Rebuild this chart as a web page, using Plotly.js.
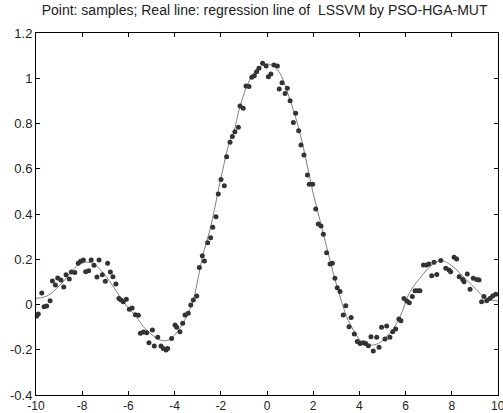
<!DOCTYPE html>
<html>
<head>
<meta charset="utf-8">
<script src="https://cdn.plot.ly/plotly-3.0.1.min.js"></script>
<style>html,body{margin:0;padding:0;background:#fff;}#chart{width:503px;height:413px;}</style>
</head>
<body>
<div id="chart"></div>
<script>
const sampleX = [-9.97,-9.90,-9.75,-9.65,-9.54,-9.39,-9.29,-9.16,-9.06,-8.92,-8.80,-8.70,-8.56,-8.47,-8.32,-8.17,-8.07,-7.95,-7.85,-7.72,-7.61,-7.49,-7.36,-7.27,-7.13,-7.00,-6.90,-6.78,-6.67,-6.54,-6.41,-6.32,-6.22,-6.09,-5.96,-5.84,-5.70,-5.57,-5.48,-5.35,-5.21,-5.11,-4.96,-4.88,-4.73,-4.59,-4.49,-4.37,-4.30,-4.13,-3.98,-3.91,-3.77,-3.65,-3.55,-3.41,-3.30,-3.19,-3.04,-2.93,-2.80,-2.71,-2.57,-2.44,-2.35,-2.21,-2.11,-1.99,-1.85,-1.75,-1.60,-1.50,-1.39,-1.24,-1.17,-1.03,-0.91,-0.78,-0.66,-0.55,-0.45,-0.35,-0.19,-0.04,0.06,0.17,0.30,0.45,0.53,0.65,0.78,0.88,1.00,1.14,1.24,1.37,1.47,1.60,1.75,1.83,1.98,2.11,2.22,2.34,2.44,2.58,2.73,2.83,2.94,3.04,3.16,3.30,3.41,3.55,3.64,3.78,3.91,4.03,4.17,4.27,4.39,4.50,4.60,4.75,4.85,4.96,5.11,5.18,5.32,5.44,5.57,5.71,5.80,5.93,6.05,6.16,6.29,6.41,6.52,6.62,6.77,6.91,7.01,7.13,7.23,7.35,7.52,7.74,7.88,7.95,8.10,8.21,8.32,8.47,8.53,8.67,8.79,8.93,9.08,9.18,9.29,9.39,9.51,9.65,9.77,9.90];
const sampleY = [-0.051,-0.042,0.051,-0.010,-0.007,0.017,0.104,0.086,0.117,0.108,0.077,0.132,0.113,0.144,0.141,0.182,0.191,0.197,0.145,0.149,0.197,0.173,0.122,0.197,0.132,0.103,0.182,0.144,0.123,0.091,0.027,0.020,0.012,0.023,-0.021,-0.015,-0.045,-0.048,-0.127,-0.122,-0.125,-0.169,-0.113,-0.183,-0.145,-0.183,-0.194,-0.201,-0.195,-0.150,-0.091,-0.101,-0.120,-0.083,-0.046,-0.039,-0.002,0.020,0.038,0.164,0.216,0.192,0.273,0.295,0.341,0.388,0.488,0.553,0.525,0.653,0.717,0.742,0.764,0.783,0.877,0.867,0.966,0.963,1.004,1.011,1.029,1.044,1.066,1.054,1.007,1.019,1.059,1.054,0.952,0.980,0.933,0.956,0.901,0.804,0.845,0.768,0.705,0.661,0.572,0.531,0.531,0.422,0.356,0.347,0.310,0.229,0.179,0.182,0.116,0.074,0.057,-0.046,-0.005,-0.098,-0.057,-0.130,-0.164,-0.172,-0.169,-0.172,-0.182,-0.142,-0.206,-0.145,-0.189,-0.101,-0.152,-0.095,-0.145,-0.120,-0.108,-0.064,-0.072,0.027,0.015,0.008,0.035,0.061,0.061,0.061,0.175,0.175,0.179,0.127,0.187,0.133,0.194,0.160,0.152,0.145,0.209,0.201,0.123,0.111,0.101,0.135,0.067,0.116,0.111,0.108,0.012,0.035,0.017,0.027,0.038,0.045];
const lineX = [-10,-9.68,-9.39,-9.10,-8.82,-8.53,-8.24,-7.95,-7.59,-7.37,-7.09,-6.80,-6.51,-6.22,-5.93,-5.64,-5.35,-5.06,-4.78,-4.49,-4.20,-3.98,-3.77,-3.48,-3.19,-2.97,-2.76,-2.47,-2.25,-2.03,-1.82,-1.60,-1.46,-1.17,-0.88,-0.59,-0.30,-0.01,0.27,0.56,0.85,1.14,1.43,1.72,2.00,2.29,2.58,2.87,3.16,3.45,3.74,4.03,4.46,4.75,5.03,5.32,5.61,5.90,6.05,6.33,6.62,6.91,7.27,7.56,7.85,8.14,8.50,8.86,9.15,9.37,9.65,10];
const lineY = [0.027,0.032,0.045,0.072,0.101,0.138,0.170,0.185,0.185,0.170,0.138,0.101,0.057,0.012,-0.024,-0.057,-0.098,-0.127,-0.149,-0.160,-0.154,-0.132,-0.105,-0.054,0.020,0.123,0.226,0.329,0.432,0.543,0.639,0.727,0.757,0.874,0.963,1.019,1.051,1.063,1.054,1.022,0.948,0.860,0.757,0.625,0.491,0.373,0.255,0.138,0.035,-0.054,-0.113,-0.157,-0.179,-0.175,-0.157,-0.127,-0.085,-0.020,0.027,0.079,0.116,0.152,0.185,0.194,0.182,0.160,0.123,0.086,0.057,0.035,0.023,0.015];
const xTicks = [-10,-8,-6,-4,-2,0,2,4,6,8,10];
const yTicks = [-0.4,-0.2,0,0.2,0.4,0.6,0.8,1,1.2];
const yTickText = ['-0.4','-0.2','0','0.2','0.4','0.6','0.8','1','1.2'];
const titleText = 'Point: samples; Real line: regression line of &nbsp;LSSVM by PSO-HGA-MUT';

const fontFam = 'Liberation Sans, Arial, sans-serif';
const traces = [
  {x: lineX, y: lineY, mode: 'lines', line: {color: '#808080', width: 1, shape: 'spline', smoothing: 1}, hoverinfo: 'skip'},
  {x: sampleX, y: sampleY, mode: 'markers', marker: {color: '#333333', size: 5}}
];
const axisCommon = {showgrid: false, zeroline: false, showline: true, linecolor: '#000', linewidth: 1, mirror: 'ticks', ticks: 'inside', ticklen: 4, tickcolor: '#000'};
const layout = {
  width: 503, height: 413,
  margin: {l: 36, r: 5, t: 33, b: 18},
  showlegend: false,
  paper_bgcolor: '#fff', plot_bgcolor: '#fff',
  title: {text: titleText, x: 0.526, xanchor: 'center', y: 0.975, yanchor: 'middle', font: {family: fontFam, size: 14, color: '#222'}},
  xaxis: Object.assign({}, axisCommon, {range: [-10, 10], tickvals: xTicks.slice(0, -1), ticktext: xTicks.slice(0, -1).map(String), tickfont: {family: fontFam, size: 12, color: '#222'}}),
  yaxis: Object.assign({}, axisCommon, {range: [-0.4, 1.2], tickvals: yTicks, ticktext: yTickText, tickfont: {family: fontFam, size: 13, color: '#222'}}),
  annotations: [{x: xTicks[xTicks.length - 1], xref: 'x', y: 0, yref: 'paper', yanchor: 'top', yshift: -2, text: String(xTicks[xTicks.length - 1]), showarrow: false, font: {family: fontFam, size: 12, color: '#222'}}]
};
Plotly.newPlot('chart', traces, layout, {displayModeBar: false, staticPlot: true});
</script>
</body>
</html>
